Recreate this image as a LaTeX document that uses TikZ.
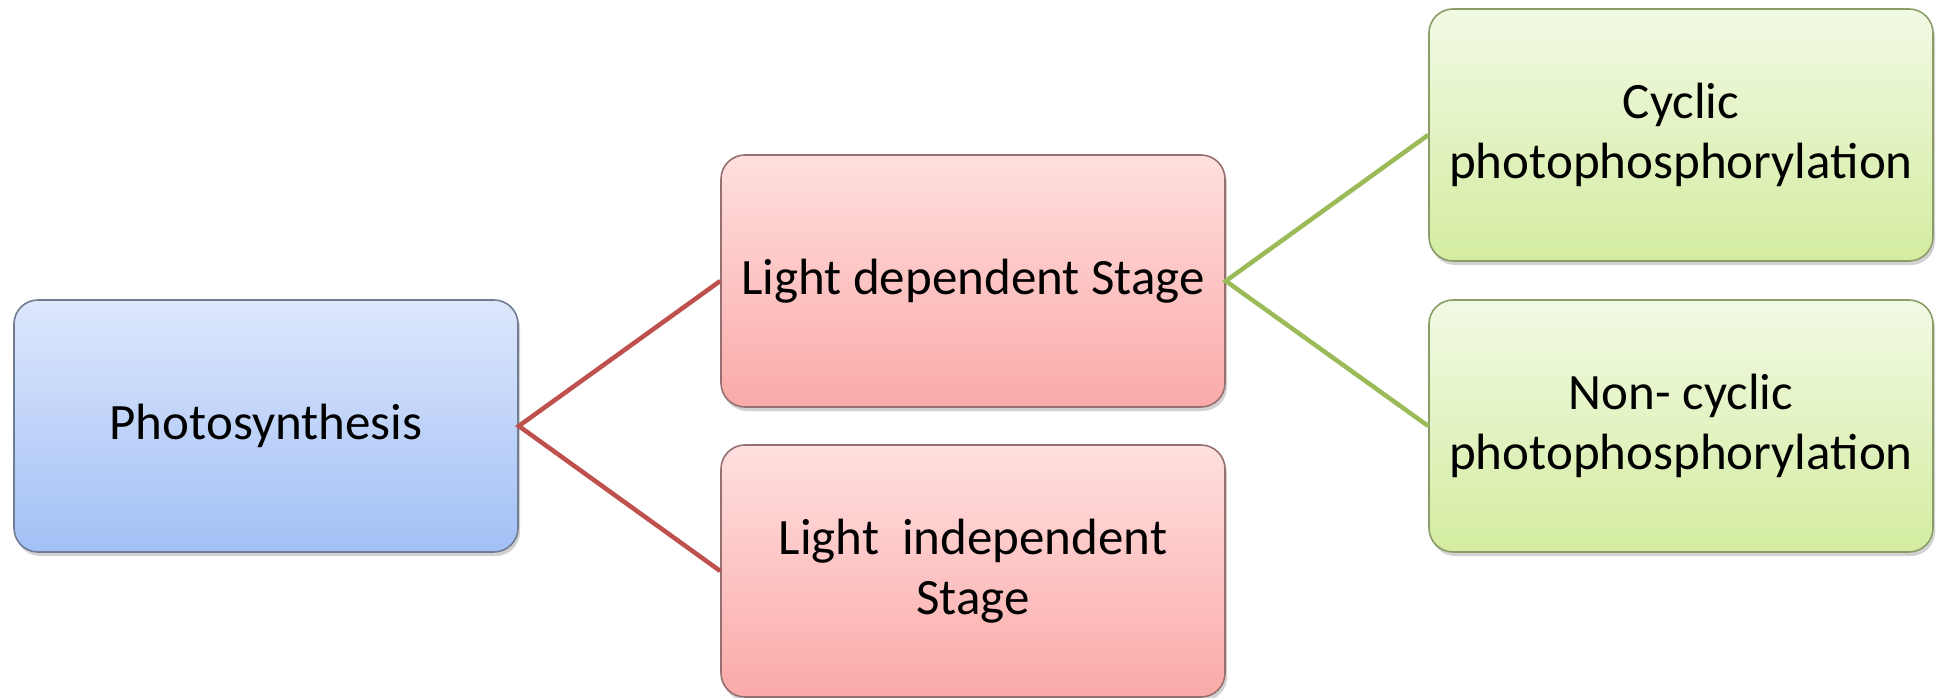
\documentclass[tikz,border=0pt]{standalone}
\usepackage{fontspec}
\setmainfont{Carlito}
\usetikzlibrary{shadows}
\definecolor{bluetop}{RGB}{221,231,252}
\definecolor{bluebot}{RGB}{162,192,246}
\definecolor{blueline}{RGB}{112,124,146}
\definecolor{redtop}{RGB}{255,223,223}
\definecolor{redbot}{RGB}{250,170,168}
\definecolor{redline}{RGB}{150,112,112}
\definecolor{greentop}{RGB}{241,250,228}
\definecolor{greenbot}{RGB}{212,236,160}
\definecolor{greenline}{RGB}{138,156,104}
\definecolor{redlink}{RGB}{190,80,77}
\definecolor{greenlink}{RGB}{155,187,89}
\tikzset{
  box/.style={rectangle, rounded corners=24pt, minimum width=504pt, minimum height=252pt,
    inner sep=0pt, align=center, line width=1.6pt,
    font=\fontsize{51}{60}\selectfont,
    drop shadow={opacity=0.35, shadow xshift=2pt, shadow yshift=-4pt}},
  bluebox/.style={box, draw=blueline, top color=bluetop, bottom color=bluebot},
  redbox/.style={box, draw=redline, top color=redtop, bottom color=redbot},
  greenbox/.style={box, draw=greenline, top color=greentop, bottom color=greenbot},
  redconn/.style={draw=redlink, line width=4.5pt},
  greenconn/.style={draw=greenlink, line width=4.5pt}
}
\begin{document}
\begin{tikzpicture}[x=1pt,y=-1pt]
\useasboundingbox[fill=white] (0,0) rectangle (1944,698);
\node[bluebox] (ps) at (266,426) {Photosynthesis};
\node[redbox] (ld) at (973,281) {Light dependent Stage};
\node[redbox] (li) at (973,571) {Light\ \ independent\\Stage};
\node[greenbox] (cy) at (1681,135) {Cyclic\\photophosphorylation};
\node[greenbox] (nc) at (1681,426) {Non- cyclic\\photophosphorylation};
\draw[redconn] (ld.west) -- (ps.east) -- (li.west);
\draw[greenconn] (cy.west) -- (ld.east) -- (nc.west);
\end{tikzpicture}
\end{document}
